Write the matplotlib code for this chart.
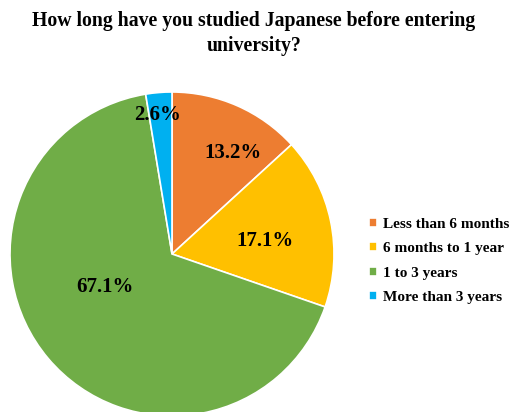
import numpy as np
import matplotlib
matplotlib.use("Agg")
import matplotlib.pyplot as plt

categories = ["Less than 6 months", "6 months to 1 year", "1 to 3 years", "More than 3 years"]
values = [13.2, 17.1, 67.1, 2.6]
colors = ["#ED7D31", "#FFC000", "#70AD47", "#00B0F0"]
title = "How long have you studied Japanese before entering\nuniversity?"

# label placement (angle in degrees, fraction of radius)
label_pos = [(58.7, 0.73), (7.9, 0.58), (206.0, 0.46), (95.8, 0.86)]

plt.rcParams['font.family'] = ['Liberation Serif', 'DejaVu Serif']
W, H = 514, 412
fig = plt.figure(figsize=(W / 100, H / 100), dpi=100)
ax = fig.add_axes([0, 0, 1, 1])
ax.set_xlim(0, W)
ax.set_ylim(0, H)
ax.set_aspect('equal')
ax.axis('off')

cx, cy, R = 172, H - 254, 162
wedges, texts, autotexts = ax.pie(values, colors=colors, startangle=90, counterclock=False,
                                  center=(cx, cy), radius=R, autopct='%1.1f%%',
                                  wedgeprops=dict(edgecolor='white', linewidth=1.2),
                                  textprops=dict(fontsize=15, fontweight='bold', color='black'))
ax.set_xlim(0, W)
ax.set_ylim(0, H)
for t, (a, f) in zip(autotexts, label_pos):
    t.set_position((cx + f * R * np.cos(np.radians(a)), cy + f * R * np.sin(np.radians(a))))
    t.set_ha('center'); t.set_va('center')

fig.text(254 / W, 1 - 11 / H, title, ha='center', va='top', fontsize=14.2, fontweight='bold',
         linespacing=1.3)

leg = fig.legend(wedges, categories, loc='upper left', bbox_to_anchor=(355 / W, 1 - 204 / H),
                 frameon=False, prop=dict(weight='bold', size=11),
                 handlelength=0.55, handleheight=0.55, handletextpad=0.4, labelspacing=0.75)
fig.savefig("out.png", dpi=100)
